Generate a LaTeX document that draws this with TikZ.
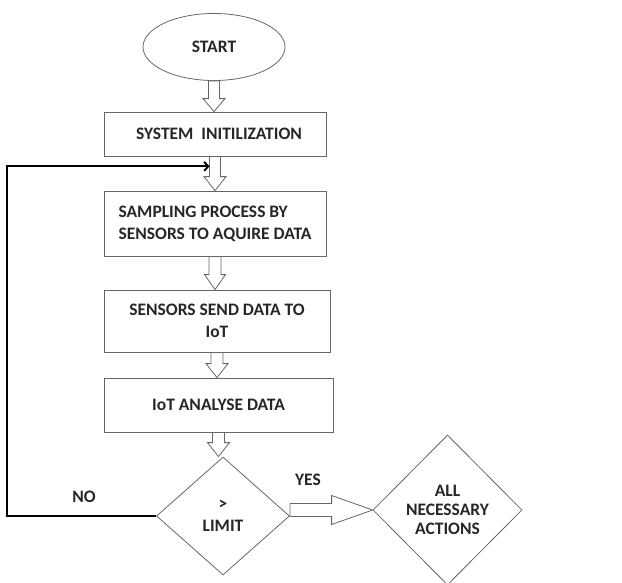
\documentclass[tikz,border=0pt]{standalone}
\usepackage{fontspec}
\setmainfont{Carlito}
\usetikzlibrary{shapes.geometric,calc,arrows.meta}

\newcommand{\hollowarrow}[5]{%
  \coordinate (ha-s) at (#1);
  \coordinate (ha-e) at (#2);
  \coordinate (ha-b) at ($(ha-e)!#5!(ha-s)$);
  \draw[HollowLine] ($(ha-s)!#3!90:(ha-e)$) -- ($(ha-b)!#3!90:(ha-e)$)
    -- ($(ha-b)!#4!90:(ha-e)$) -- (ha-e)
    -- ($(ha-b)!#4!-90:(ha-e)$) -- ($(ha-b)!#3!-90:(ha-e)$)
    -- ($(ha-s)!#3!-90:(ha-e)$) -- cycle;
}

\begin{document}
\begin{tikzpicture}[x=1pt,y=-1pt]
   \tikzset{every node/.style={text=black!85, font=\fontsize{17.5}{22}\selectfont\bfseries}}
   \tikzset{StepBox/.style={draw=black!60, line width=0.8pt, inner sep=0pt}}
   \tikzset{HollowLine/.style={draw=black!60, fill=white, line width=0.8pt, line join=miter}}
   \tikzset{LoopLine/.style={draw=black, line width=2pt}}
   \useasboundingbox (0,0) rectangle (622,582);
   \node[StepBox, ellipse, minimum width=142, minimum height=67] (start) at (214,47) {START};
   \node[StepBox, minimum width=222, minimum height=44] (init) at (215,134) {\ \ SYSTEM\ \ INITILIZATION};
   \node[StepBox, minimum width=222, minimum height=65, align=left] (sample) at (215,223.5) {SAMPLING PROCESS BY\\SENSORS TO AQUIRE DATA};
   \node[StepBox, minimum width=226, minimum height=62, align=center] (send) at (217,321) {SENSORS SEND DATA TO\\IoT};
   \node[StepBox, minimum width=229, minimum height=54] (analyse) at (218.5,405) {IoT ANALYSE DATA};
   \node[StepBox, diamond, minimum width=133, minimum height=118, align=center] (limit) at (223,516) {>\\LIMIT};
   \node[StepBox, diamond, minimum width=149, minimum height=150, align=center, font=\fontsize{17.5}{19}\selectfont\bfseries] (actions) at (447.5,510) {ALL\\NECESSARY\\ACTIONS};
   \node (no) at (84,497) {NO};
   \node (yes) at (308,480) {YES};
   \hollowarrow{start.south}{start.south |- init.north}{5.5pt}{11pt}{13pt}
   \hollowarrow{init.south}{init.south |- sample.north}{5.5pt}{11pt}{14pt}
   \hollowarrow{sample.south}{sample.south |- send.north}{6pt}{10.5pt}{15pt}
   \hollowarrow{send.south}{send.south |- analyse.north}{6pt}{11pt}{14pt}
   \hollowarrow{analyse.south}{analyse.south |- limit.north}{6pt}{11pt}{14pt}
   \hollowarrow{limit.east |- actions.west}{actions.west}{6.5pt}{14.5pt}{41pt}
   \coordinate (back) at ($(init.south)!0.29!(sample.north) + (-5.5,0)$);
   \draw[LoopLine, -{Straight Barb[length=4pt,width=9pt]}] (limit.west) -- ++(-149,0) |- (back);
\end{tikzpicture}
\end{document}
